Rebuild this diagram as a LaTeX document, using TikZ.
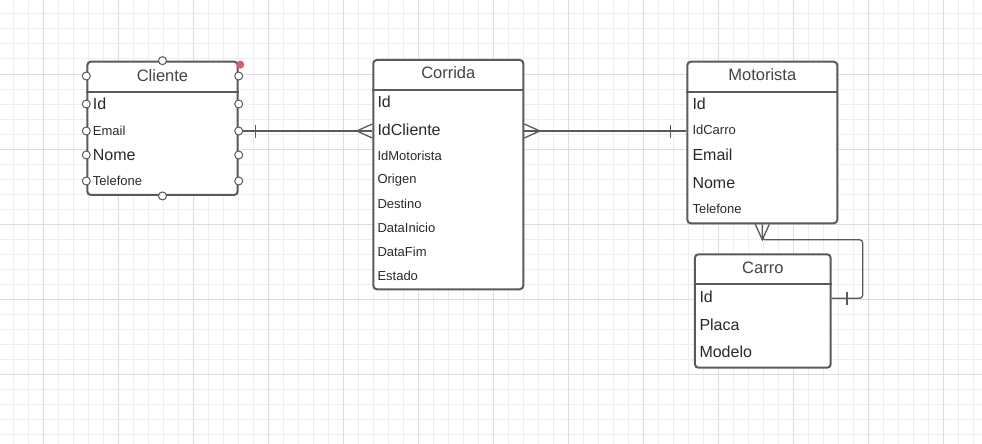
\documentclass[tikz,border=0pt]{standalone}
\usepackage{fontspec}
\setmainfont{Liberation Sans}

\definecolor{erline}{HTML}{5A5A5A}
\definecolor{ertitle}{HTML}{444444}
\definecolor{ertext}{HTML}{2A2A2A}
\definecolor{gridminor}{HTML}{EEEEEE}
\definecolor{gridmajor}{HTML}{DDDDDD}
\definecolor{selred}{HTML}{E2596A}

\tikzset{
  entity/.style={draw=erline, line width=2pt, rounded corners=3.5pt, fill=white, inner sep=0pt},
  sepline/.style={draw=erline, line width=2pt},
  title/.style={text=ertitle, inner sep=0pt, text height=11.5pt, text depth=0pt,
    font=\fontsize{16.5}{18}\selectfont},
  bigattr/.style={anchor=west, inner sep=0pt, text=ertext, text height=11.5pt, text depth=0pt,
    font=\fontsize{16}{18}\selectfont},
  smallattr/.style={anchor=west, inner sep=0pt, text=ertext, text height=9.3pt, text depth=0pt,
    font=\fontsize{13}{15}\selectfont},
  relline/.style={draw=erline, line width=1.3pt},
  handle/.style={circle, draw=erline, fill=white, line width=1pt, minimum size=8pt, inner sep=0pt},
}

\begin{document}
\begin{tikzpicture}[x=1pt,y=-1pt]
\useasboundingbox (0,0) rectangle (982,444);
\fill[white] (0,0) rectangle (982,444);

% grid
\foreach \x in {13.5,28.5,...,973.5} \draw[gridminor, line width=1pt] (\x,0) -- (\x,444);
\foreach \y in {14,29,...,434} \draw[gridminor, line width=1pt] (0,\y) -- (982,\y);
\foreach \x in {43,118,...,943} \draw[gridmajor, line width=1pt] (\x,0) -- (\x,444);
\foreach \y in {-1,74,...,374} \draw[gridmajor, line width=1pt] (0,\y) -- (982,\y);

% Cliente
\node[entity, minimum width=150.4pt, minimum height=133.3pt] (cliente) at (162.5,128.3) {};
\draw[sepline] (cliente.west |- 0,91.7) -- (cliente.east |- 0,91.7);
\node[title] (cli-title) at (162.5,76) {Cliente};
\node[bigattr] (cli-id) at (92.7,104) {Id};
\node[smallattr] (cli-email) at (92.7,131) {Email};
\node[bigattr] (cli-nome) at (92.7,155) {Nome};
\node[smallattr] (cli-tel) at (92.7,181) {Telefone};

% Corrida
\node[entity, minimum width=150pt, minimum height=229.3pt] (corrida) at (448.3,174.6) {};
\draw[sepline] (corrida.west |- 0,90) -- (corrida.east |- 0,90);
\node[title] (cor-title) at (448.3,72.7) {Corrida};
\node[bigattr] (cor-id) at (377.3,101.7) {Id};
\node[bigattr] (cor-idcliente) at (377.3,130) {IdCliente};
\node[smallattr] (cor-idmot) at (377.3,155.7) {IdMotorista};
\node[smallattr] (cor-origem) at (377.3,179.3) {Origen};
\node[smallattr] (cor-destino) at (377.3,204) {Destino};
\node[smallattr] (cor-inicio) at (377.3,227.5) {DataInicio};
\node[smallattr] (cor-fim) at (377.3,251.7) {DataFim};
\node[smallattr] (cor-estado) at (377.3,275.7) {Estado};

% Motorista
\node[entity, minimum width=150pt, minimum height=161.6pt] (motorista) at (762.3,142.5) {};
\draw[sepline] (motorista.west |- 0,91.7) -- (motorista.east |- 0,91.7);
\node[title] (mot-title) at (762.3,75) {Motorista};
\node[bigattr] (mot-id) at (692.3,103.3) {Id};
\node[smallattr] (mot-idcarro) at (692.3,129.5) {IdCarro};
\node[bigattr] (mot-email) at (692.3,155) {Email};
\node[bigattr] (mot-nome) at (692.3,182.7) {Nome};
\node[smallattr] (mot-tel) at (692.3,209) {Telefone};

% Carro
\node[entity, minimum width=135.7pt, minimum height=113.4pt] (carro) at (762.8,311) {};
\draw[sepline] (carro.west |- 0,284.3) -- (carro.east |- 0,284.3);
\node[title] (car-title) at (762.8,267.7) {Carro};
\node[bigattr] (car-id) at (699.3,296.7) {Id};
\node[bigattr] (car-placa) at (699.3,325) {Placa};
\node[bigattr] (car-modelo) at (699.3,351.7) {Modelo};

% relation ends
\coordinate (cli-out) at (cliente.east |- cli-email);
\coordinate (cor-in) at (corrida.west |- cli-email);
\coordinate (cor-out) at (corrida.east |- cli-email);
\coordinate (mot-in) at (motorista.west |- cli-email);
\coordinate (mot-out) at (motorista.south);
\coordinate (car-in) at (carro.east |- 0,298.3);

% Cliente -- Corrida
\draw[relline] (cli-out) -- (cor-in);
\draw[relline] ([xshift=16.5pt,yshift=6.5pt]cli-out) -- ([xshift=16.5pt,yshift=-6.5pt]cli-out);
\draw[relline] ([yshift=7pt]cor-in) -- ([xshift=-15.5pt]cor-in) -- ([yshift=-7pt]cor-in);

% Corrida -- Motorista
\draw[relline] (cor-out) -- (mot-in);
\draw[relline] ([yshift=7pt]cor-out) -- ([xshift=15.5pt]cor-out) -- ([yshift=-7pt]cor-out);
\draw[relline] ([xshift=-15.5pt,yshift=6.5pt]mot-in) -- ([xshift=-15.5pt,yshift=-6.5pt]mot-in);

% Motorista -- Carro
\draw[relline, rounded corners=3pt] (mot-out) -- ++(0,15.5) -| ([xshift=31pt]car-in) -- (car-in);
\draw[relline] ([xshift=-7pt]mot-out) -- ([yshift=-15.5pt]mot-out) -- ([xshift=7pt]mot-out);
\draw[relline] ([xshift=15.3pt,yshift=6.5pt]car-in) -- ([xshift=15.3pt,yshift=-6.5pt]car-in);

% handles on Cliente
\foreach \row in {cli-title,cli-id,cli-email,cli-nome,cli-tel} {
  \node[handle] at (cliente.west |- \row) {};
  \node[handle] at (cliente.east |- \row) {};
}
\node[handle] (cli-top) at (cliente.north) {};
\node[handle] (cli-bottom) at (cliente.south) {};
\node[circle, fill=selred, minimum size=8pt, inner sep=0pt] (cli-sel)
  at ([xshift=1.6pt,yshift=-4pt]cliente.north east) {};

\end{tikzpicture}
\end{document}
